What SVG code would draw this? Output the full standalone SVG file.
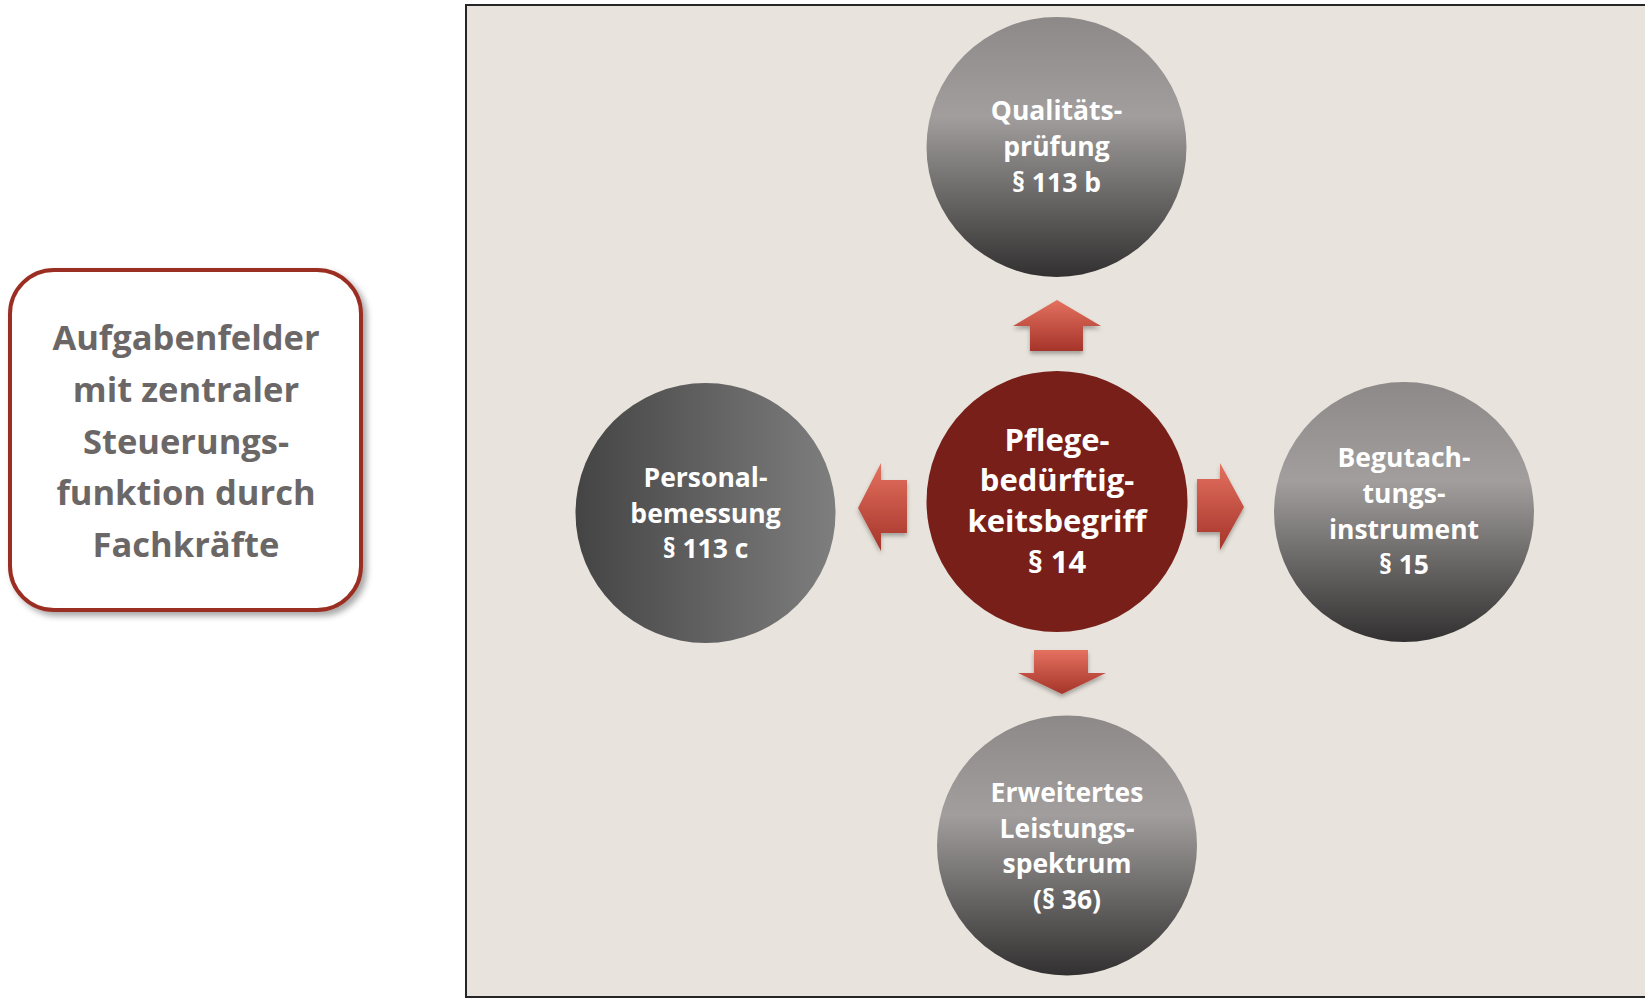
<svg xmlns="http://www.w3.org/2000/svg" width="1645" height="999" viewBox="0 0 1645 999">
  <defs>
    <style>
      .lbl { font-family: "Open Sans", "Liberation Sans", sans-serif; font-weight: 700; fill: #ffffff; text-anchor: middle; }
      .circ { font-size: 26.5px; }
      .core { font-size: 31px; }
      .side { font-family: "Open Sans", "Liberation Sans", sans-serif; font-weight: 700; font-size: 34.5px; fill: #6b6767; text-anchor: middle; }
      .arrow { fill: url(#arrowGrad); filter: url(#arrowShadow); }
    </style>
    <linearGradient id="grayV" x1="0" y1="0" x2="0" y2="1">
      <stop offset="0" stop-color="#8c8988"/>
      <stop offset="0.38" stop-color="#a19e9d"/>
      <stop offset="1" stop-color="#323030"/>
    </linearGradient>
    <linearGradient id="grayH" x1="0" y1="0" x2="1" y2="0">
      <stop offset="0" stop-color="#444444"/>
      <stop offset="1" stop-color="#7e7e7e"/>
    </linearGradient>
    <linearGradient id="arrowGrad" x1="0" y1="0" x2="0" y2="1">
      <stop offset="0" stop-color="#e4715f"/>
      <stop offset="1" stop-color="#a5342a"/>
    </linearGradient>
    <filter id="arrowShadow" x="-30%" y="-30%" width="160%" height="170%">
      <feDropShadow dx="0" dy="3" stdDeviation="2" flood-color="#000" flood-opacity="0.3"/>
    </filter>
    <filter id="boxShadow" x="-10%" y="-10%" width="125%" height="125%">
      <feDropShadow dx="4" dy="4" stdDeviation="3" flood-color="#000" flood-opacity="0.35"/>
    </filter>
  </defs>

  <rect width="1645" height="999" fill="#ffffff"/>

  <!-- heading box on the left -->
  <g id="aufgabenfelder">
    <rect x="10" y="270" width="351" height="340" rx="44" fill="#ffffff" stroke="#9b2f22" stroke-width="4" filter="url(#boxShadow)"/>
    <text class="side" x="186" y="350">Aufgabenfelder</text>
    <text class="side" x="186" y="401.5">mit zentraler</text>
    <text class="side" x="186" y="453.5">Steuerungs-</text>
    <text class="side" x="186" y="505">funktion durch</text>
    <text class="side" x="186" y="556.5">Fachkräfte</text>
  </g>

  <!-- backdrop panel -->
  <rect id="panel" x="466" y="5" width="1190" height="992" fill="#e8e4dd" stroke="#262626" stroke-width="2"/>

  <!-- arrows from the core concept to the four fields -->
  <g id="connectors">
    <polygon class="arrow" points="1057,300 1101,326 1083,326 1083,351 1030,351 1030,326 1013,326"/>
    <polygon class="arrow" points="1197,479 1220,479 1220,463 1244,507 1220,550 1220,532 1197,532"/>
    <polygon class="arrow" points="858,508 881,463 881,480 907,480 907,533 881,533 881,551"/>
    <polygon class="arrow" points="1034,650 1088,650 1088,673 1106,673 1062,694 1018,673 1034,673"/>
  </g>

  <g id="qualitaetspruefung">
    <circle cx="1056.5" cy="147" r="130" fill="url(#grayV)"/>
    <text class="lbl circ" x="1056.5" y="120">Qualitäts-</text>
    <text class="lbl circ" x="1056.5" y="156">prüfung</text>
    <text class="lbl circ" x="1056.5" y="192">§ 113 b</text>
  </g>

  <g id="personalbemessung">
    <circle cx="705.5" cy="513" r="130" fill="url(#grayH)"/>
    <text class="lbl circ" x="705.5" y="487">Personal-</text>
    <text class="lbl circ" x="705.5" y="522.5">bemessung</text>
    <text class="lbl circ" x="705.5" y="558">§ 113 c</text>
  </g>

  <g id="pflegebeduerftigkeitsbegriff">
    <circle cx="1057" cy="501.5" r="130.5" fill="#771f18"/>
    <text class="lbl core" x="1057" y="450.5">Pflege-</text>
    <text class="lbl core" x="1057" y="491">bedürftig-</text>
    <text class="lbl core" x="1057" y="532">keitsbegriff</text>
    <text class="lbl core" x="1057" y="573">§ 14</text>
  </g>

  <g id="begutachtungsinstrument">
    <circle cx="1404" cy="512" r="130" fill="url(#grayV)"/>
    <text class="lbl circ" x="1404" y="467">Begutach-</text>
    <text class="lbl circ" x="1404" y="503">tungs-</text>
    <text class="lbl circ" x="1404" y="539">instrument</text>
    <text class="lbl circ" x="1404" y="574">§ 15</text>
  </g>

  <g id="leistungsspektrum">
    <circle cx="1067" cy="845.5" r="130" fill="url(#grayV)"/>
    <text class="lbl circ" x="1067" y="801.5">Erweitertes</text>
    <text class="lbl circ" x="1067" y="837.5">Leistungs-</text>
    <text class="lbl circ" x="1067" y="873">spektrum</text>
    <text class="lbl circ" x="1067" y="909">(§ 36)</text>
  </g>
</svg>
